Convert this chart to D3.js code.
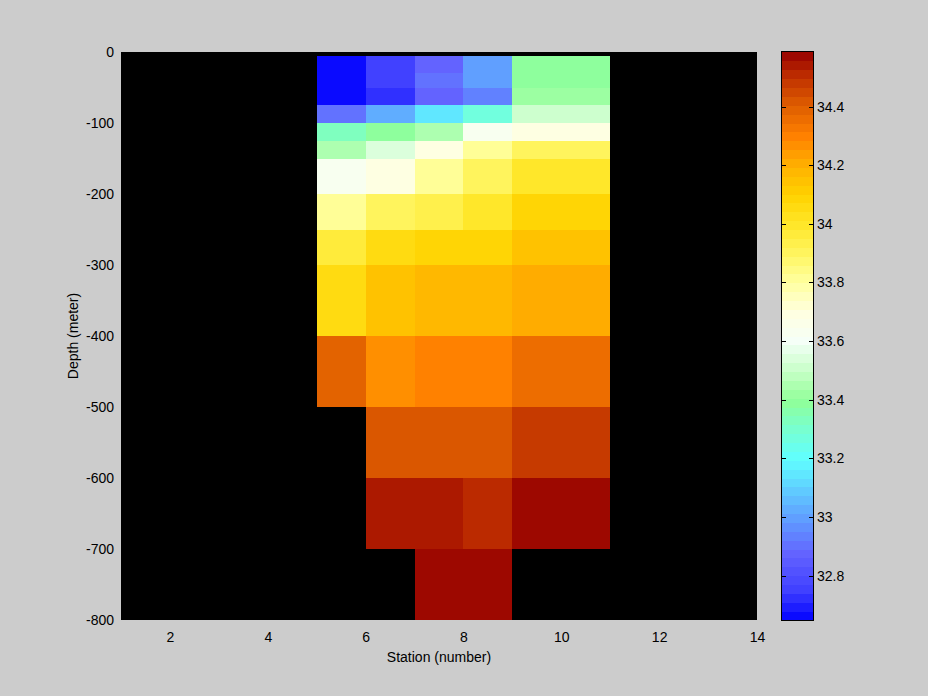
<!DOCTYPE html>
<html><head><meta charset="utf-8">
<script src="https://cdn.jsdelivr.net/npm/d3@7"></script>
<style>
html,body{margin:0;padding:0;background:#cccccc;}
svg text{font-family:"Liberation Sans",Arial,Helvetica,sans-serif;font-size:14px;fill:#000;}
</style></head>
<body><svg id="chart" width="928" height="696"></svg>
<script>
// ---- data ----
const stationEdges = [5, 6, 7, 8, 9, 11];
const depthEdges = [-5, -30, -50, -75, -100, -125, -150, -200, -250, -300, -400, -500, -600, -700, -800];
// salinity per station column (cells from top to bottom), null = no data
const salSt5 = [32.66, 32.66, 32.65, 32.92, 33.33, 33.45, 33.62, 33.82, 33.98, 34.07, 34.38, null, null, null];
const salSt6 = [32.76, 32.76, 32.72, 33.03, 33.38, 33.53, 33.68, 33.92, 34.06, 34.14, 34.27, 34.425, 34.54, null];
const salSt7 = [32.88, 32.92, 32.88, 33.15, 33.45, 33.68, 33.82, 33.95, 34.08, 34.17, 34.30, 34.425, 34.54, 34.58];
const salSt8 = [33.00, 33.00, 32.95, 33.28, 33.64, 33.82, 33.92, 34.00, 34.08, 34.17, 34.30, 34.425, 34.50, 34.58];
const salSt9 = [33.38, 33.38, 33.42, 33.52, 33.68, 33.92, 34.00, 34.08, 34.14, 34.20, 34.35, 34.47, 34.56, null];
const salinity = [salSt5, salSt6, salSt7, salSt8, salSt9];
const colorLimits = [32.649, 34.586];
const xTicks = [2, 4, 6, 8, 10, 12, 14];
const yTicks = [0, -100, -200, -300, -400, -500, -600, -700, -800];
const cbTicks = [32.8, 33.0, 33.2, 33.4, 33.6, 33.8, 34.0, 34.2, 34.4];
// colormap anchors
const cmapStops = [32.649, 32.75, 32.88, 32.95, 33.0, 33.1, 33.2, 33.3, 33.4, 33.5, 33.6, 33.7, 33.8, 33.9, 34.0, 34.1, 34.2, 34.3, 34.4, 34.5, 34.586];
const cmapColors = ["#0000ff","#4040ff","#6464ff","#6088ff","#60a0ff","#60d0ff","#60ffff","#78ffd0","#90ff98","#c8ffc8","#f5fff8","#ffffe0","#ffffa0","#fff560","#ffe628","#ffd200","#ffb000","#ff8000","#e06000","#c03000","#960000"];
const nLevels = 64;

// ---- layout ----
const svg = d3.select("#chart");
const L = 121, R = 757, T = 52, B = 620;
const x = d3.scaleLinear().domain([1, 14]).range([L, R]);
const y = d3.scaleLinear().domain([-800, 0]).range([B, T]);

const cont = d3.scaleLinear().domain(cmapStops).range(cmapColors).interpolate(d3.interpolateRgb).clamp(true);
const step = (colorLimits[1] - colorLimits[0]) / nLevels;
const levels = d3.range(nLevels).map(i => colorLimits[0] + (i + 0.5) * step);
const color = d3.scaleQuantize().domain(colorLimits).range(levels.map(v => cont(v)));

svg.append("rect").attr("width", 928).attr("height", 696).attr("fill", "#cccccc");
svg.append("rect").attr("x", L).attr("y", T).attr("width", R - L).attr("height", B - T).attr("fill", "#000");

// cells
const cells = [];
salinity.forEach((col, i) => col.forEach((v, j) => {
  if (v !== null) cells.push({x0: stationEdges[i], x1: stationEdges[i + 1], y0: depthEdges[j], y1: depthEdges[j + 1], v});
}));
svg.append("g").selectAll("rect").data(cells).join("rect")
  .attr("x", d => x(d.x0)).attr("y", d => y(d.y0))
  .attr("width", d => x(d.x1) - x(d.x0)).attr("height", d => y(d.y1) - y(d.y0))
  .attr("fill", d => color(d.v)).attr("shape-rendering", "crispEdges");

// axes
const xAxis = svg.append("g").attr("transform", `translate(0,${B})`)
  .call(d3.axisBottom(x).tickValues(xTicks).tickSize(0).tickPadding(12).tickFormat(d => String(d)));
xAxis.select(".domain").remove();
xAxis.selectAll("text").attr("font-size", 14).attr("font-family", null).attr("dy", "0.71em").attr("y", 12);
const yAxis = svg.append("g").attr("transform", `translate(${L},0)`)
  .call(d3.axisLeft(y).tickValues(yTicks).tickSize(0).tickPadding(7).tickFormat(d => String(d)));
yAxis.select(".domain").remove();
yAxis.selectAll("text").attr("font-size", 14).attr("font-family", null);

svg.append("text").attr("x", (L + R) / 2).attr("y", 662).attr("text-anchor", "middle").text("Station (number)");
svg.append("text").attr("transform", `translate(78,${(T + B) / 2}) rotate(-90)`).attr("text-anchor", "middle").text("Depth (meter)");

// colorbar
const cbL = 781, cbR = 814;
const cy = d3.scaleLinear().domain(colorLimits).range([B, T]);
svg.append("g").selectAll("rect").data(levels).join("rect")
  .attr("x", cbL).attr("width", cbR - cbL)
  .attr("y", (v, i) => cy(colorLimits[0] + (i + 1) * step))
  .attr("height", cy(colorLimits[0]) - cy(colorLimits[0] + step) + 0.5)
  .attr("fill", v => color(v)).attr("shape-rendering", "crispEdges");
svg.append("rect").attr("x", cbL + 0.5).attr("y", T - 0.5).attr("width", cbR - cbL - 1).attr("height", B - T + 1)
  .attr("fill", "none").attr("stroke", "#000").attr("stroke-width", 1);
const cbAxis = svg.append("g").attr("transform", `translate(${cbR},0)`)
  .call(d3.axisRight(cy).tickValues(cbTicks).tickSize(0).tickPadding(3).tickFormat(d => String(+d.toFixed(1))));
cbAxis.select(".domain").remove();
cbAxis.selectAll("text").attr("font-size", 14).attr("font-family", null);
const cbt = svg.append("g").selectAll("g").data(cbTicks).join("g");
cbt.append("line").attr("x1", cbL).attr("x2", cbL + 5).attr("y1", d => Math.round(cy(d)) + 0.5).attr("y2", d => Math.round(cy(d)) + 0.5).attr("stroke", "#000");
cbt.append("line").attr("x1", cbR - 5).attr("x2", cbR).attr("y1", d => Math.round(cy(d)) + 0.5).attr("y2", d => Math.round(cy(d)) + 0.5).attr("stroke", "#000");
</script></body></html>
